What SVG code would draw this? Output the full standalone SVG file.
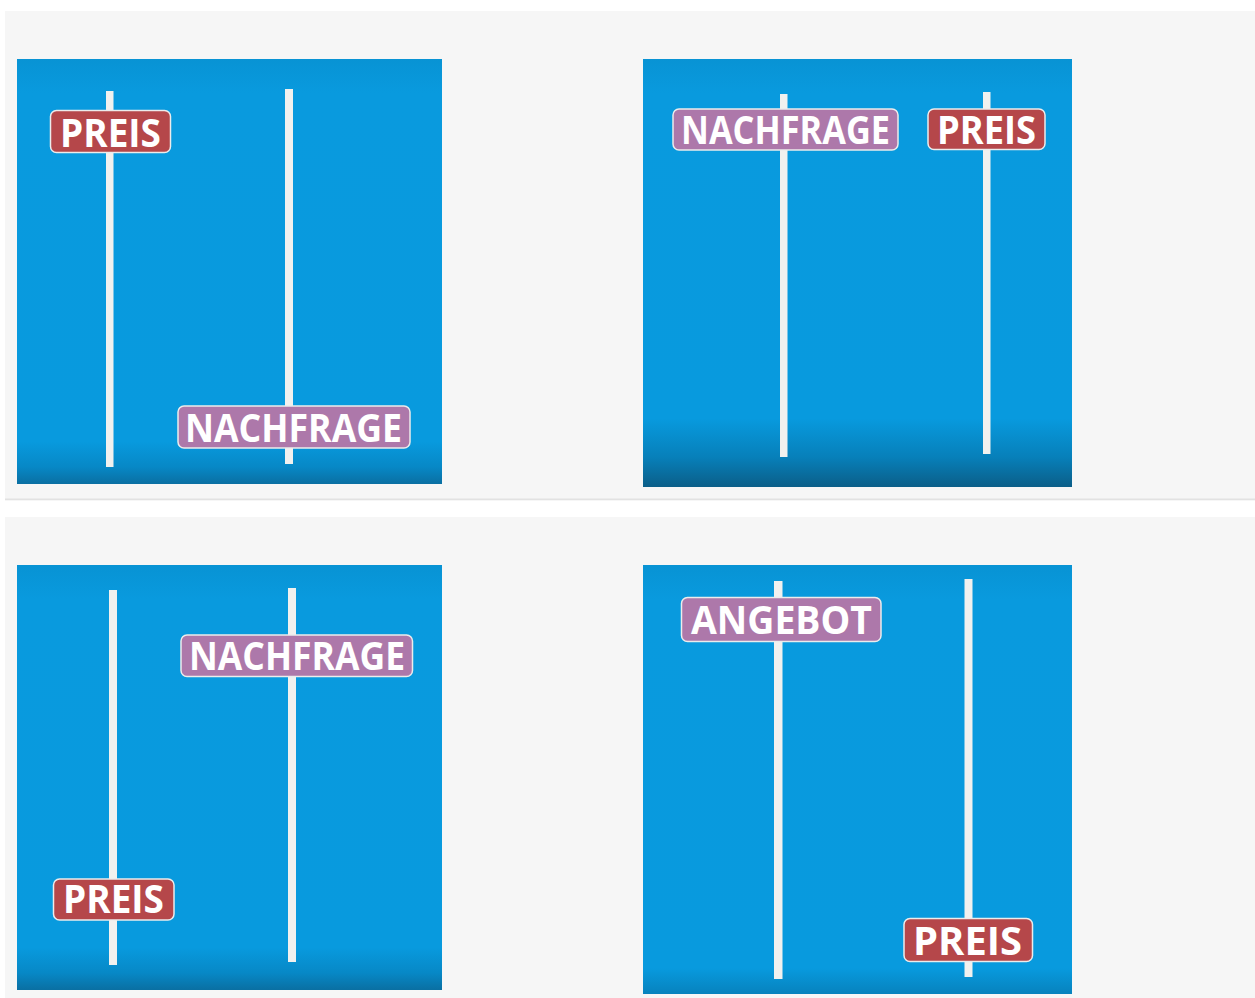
<svg xmlns="http://www.w3.org/2000/svg" width="1255" height="998" viewBox="0 0 1255 998">
<defs>
<linearGradient id="bgA" x1="0" y1="0" x2="0" y2="1">
<stop offset="0" stop-color="#0893d4"/>
<stop offset="0.08" stop-color="#099ade"/>
<stop offset="0.9" stop-color="#089ade"/>
<stop offset="0.96" stop-color="#0788c6"/>
<stop offset="1" stop-color="#0a6fa2"/>
</linearGradient>
<linearGradient id="bgB" x1="0" y1="0" x2="0" y2="1">
<stop offset="0" stop-color="#0893d4"/>
<stop offset="0.08" stop-color="#099ade"/>
<stop offset="0.84" stop-color="#089ade"/>
<stop offset="0.93" stop-color="#0780ba"/>
<stop offset="1" stop-color="#0b5e88"/>
</linearGradient>
<linearGradient id="bgC" x1="0" y1="0" x2="0" y2="1">
<stop offset="0" stop-color="#0893d4"/>
<stop offset="0.08" stop-color="#099ade"/>
<stop offset="0.94" stop-color="#089ade"/>
<stop offset="1" stop-color="#0782bd"/>
</linearGradient>
</defs>
<style>
.gray{fill:#f6f6f6}
.pole{fill:#f1f1ef}
.red{fill:#b5474a;stroke:#ececec;stroke-width:1.5}
.purple{fill:#ad78aa;stroke:#ececec;stroke-width:1.5}
.lbl{font-family:"Open Sans","Liberation Sans",sans-serif;font-weight:bold;font-size:39px;fill:#ffffff}
</style>
<rect width="1255" height="998" fill="#ffffff"/>
<rect class="gray" x="5" y="11" width="1250" height="488"/>
<rect x="5" y="498.5" width="1250" height="1.8" fill="#e2e2e2"/>
<rect class="gray" x="5" y="517" width="1250" height="481"/>

<g id="panel1">
<rect x="17" y="59" width="425" height="425" fill="url(#bgA)"/>
<rect class="pole" x="106" y="91" width="7.5" height="376"/>
<rect class="pole" x="285" y="89" width="8" height="375"/>
<g id="p1-preis">
<rect class="red" x="50.5" y="110.5" width="120" height="42" rx="6"/>
<text class="lbl" x="60" y="147" textLength="101" lengthAdjust="spacingAndGlyphs">PREIS</text>
</g>
<g id="p1-nachfrage">
<rect class="purple" x="178" y="406" width="232" height="42" rx="6"/>
<text class="lbl" x="185" y="441.5" textLength="217" lengthAdjust="spacingAndGlyphs">NACHFRAGE</text>
</g>
</g>

<g id="panel2">
<rect x="643" y="59" width="429" height="428" fill="url(#bgB)"/>
<rect class="pole" x="780" y="94" width="7.5" height="363"/>
<rect class="pole" x="983" y="92" width="7.5" height="362"/>
<g id="p2-nachfrage">
<rect class="purple" x="673" y="109" width="225" height="41" rx="6"/>
<text class="lbl" x="681" y="144" textLength="209" lengthAdjust="spacingAndGlyphs">NACHFRAGE</text>
</g>
<g id="p2-preis">
<rect class="red" x="928" y="109" width="117" height="40.5" rx="6"/>
<text class="lbl" x="937" y="144" textLength="99" lengthAdjust="spacingAndGlyphs">PREIS</text>
</g>
</g>

<g id="panel3">
<rect x="17" y="565" width="425" height="425" fill="url(#bgA)"/>
<rect class="pole" x="109" y="590" width="8" height="375"/>
<rect class="pole" x="288" y="588" width="8" height="374"/>
<g id="p3-nachfrage">
<rect class="purple" x="181" y="635" width="231.5" height="41.5" rx="6"/>
<text class="lbl" x="189" y="670" textLength="216" lengthAdjust="spacingAndGlyphs">NACHFRAGE</text>
</g>
<g id="p3-preis">
<rect class="red" x="53.5" y="879" width="120.5" height="41" rx="6"/>
<text class="lbl" x="63" y="913" textLength="101" lengthAdjust="spacingAndGlyphs">PREIS</text>
</g>
</g>

<g id="panel4">
<rect x="643" y="565" width="429" height="429" fill="url(#bgC)"/>
<rect class="pole" x="774" y="581" width="8.5" height="398"/>
<rect class="pole" x="964.5" y="579" width="8" height="398"/>
<g id="p4-angebot">
<rect class="purple" x="681.5" y="597.5" width="199.5" height="44" rx="6"/>
<text class="lbl" x="691" y="634" textLength="181" lengthAdjust="spacingAndGlyphs">ANGEBOT</text>
</g>
<g id="p4-preis">
<rect class="red" x="904" y="918.5" width="128.5" height="43" rx="6"/>
<text class="lbl" x="913" y="955" textLength="109" lengthAdjust="spacingAndGlyphs">PREIS</text>
</g>
</g>
</svg>
